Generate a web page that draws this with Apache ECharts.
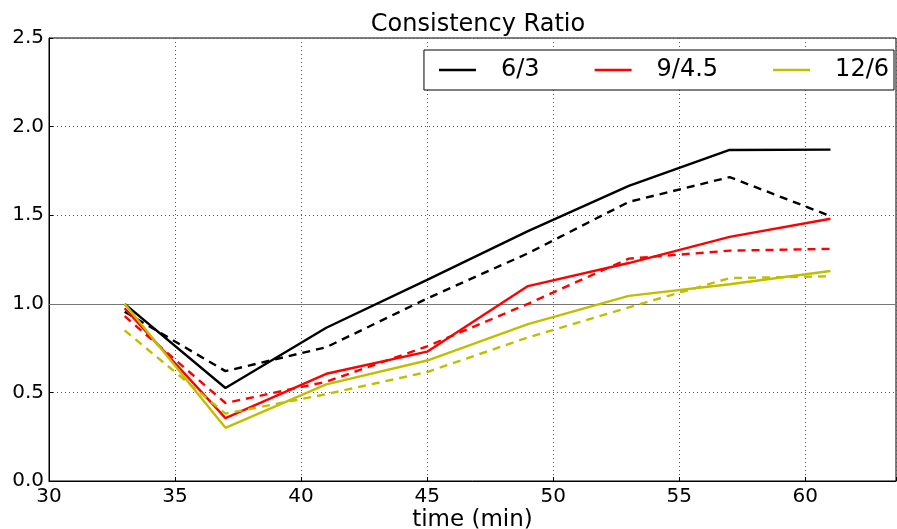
<!DOCTYPE html>
<html><head><meta charset="utf-8">
<script src="https://cdn.jsdelivr.net/npm/echarts@6/dist/echarts.min.js"></script>
<style>html,body{margin:0;padding:0;background:#fff;overflow:hidden}#c{width:897px;height:529px}</style>
</head><body><div id="c"></div>
<script>
const times = [33, 37, 41, 45, 49, 53, 57, 61];
const s63 = [1.00, 0.525, 0.865, 1.135, 1.41, 1.665, 1.868, 1.87];
const s63d = [0.955, 0.62, 0.755, 1.03, 1.285, 1.575, 1.715, 1.495];
const s945 = [0.975, 0.355, 0.605, 0.73, 1.10, 1.23, 1.378, 1.48];
const s945d = [0.93, 0.44, 0.56, 0.76, 1.00, 1.255, 1.30, 1.31];
const s126 = [1.00, 0.30, 0.545, 0.68, 0.885, 1.045, 1.11, 1.185];
const s126d = [0.85, 0.38, 0.49, 0.615, 0.81, 0.98, 1.145, 1.155];
const names = ['6/3', '9/4.5', '12/6'];
const colors = ['#000000', '#ff0000', '#bfbf00'];
const yTicks = [0.0, 0.5, 1.0, 1.5, 2.0, 2.5];

const pair = v => times.map((t, i) => [t, v[i]]);
const FONT = 'DejaVu Sans';
function line(name, data, color, dashed, extra) {
  return Object.assign({
    name: name, type: 'line', data: pair(data), showSymbol: false, symbol: 'none',
    lineStyle: { color: color, width: 2.4, type: dashed ? [8, 6] : 'solid' },
    itemStyle: { color: color }, z: 3, silent: true, animation: false
  }, extra || {});
}
const el = document.getElementById('c');
const chart = echarts.init(el, null, { renderer: 'canvas', width: 897, height: 529 });
chart.setOption({
  animation: false,
  title: { text: 'Consistency Ratio', left: 473, textAlign: 'center', top: 8,
    textStyle: { fontFamily: FONT, fontSize: 24, fontWeight: 'normal', color: '#000' } },
  legend: {
    data: names, right: 3, top: 50, orient: 'horizontal',
    icon: 'rect', itemWidth: 37, itemHeight: 2.5, itemGap: 55,
    padding: [8, 5, 8, 15],
    borderColor: '#000', borderWidth: 1, borderRadius: 0, backgroundColor: '#fff',
    textStyle: { fontFamily: FONT, fontSize: 24, color: '#000', padding: [0, 0, 0, 20] }
  },
  grid: { left: 49, right: 1, top: 38, bottom: 48, outerBoundsMode: 'none', containLabel: false,
    show: true, borderColor: '#000', borderWidth: 1, backgroundColor: 'transparent' },
  xAxis: {
    type: 'value', min: 30, max: 63.6, interval: 5,
    name: 'time (min)', nameLocation: 'middle', nameGap: 28, nameMoveOverlap: false,
    nameTextStyle: { fontFamily: FONT, fontSize: 23, color: '#000', verticalAlign: 'top' },
    axisLine: { show: true, onZero: false, lineStyle: { color: '#000', width: 1 } },
    axisTick: { show: true, inside: true, length: 4, lineStyle: { color: '#000' } },
    axisLabel: { fontFamily: FONT, fontSize: 20, color: '#000', margin: 6,
      formatter: v => (Math.abs(v % 5) < 1e-9 ? String(v) : '') },
    splitLine: { show: true, lineStyle: { color: '#555', width: 1, type: [1, 3] } }
  },
  yAxis: {
    type: 'value', min: 0, max: 2.5, interval: 0.5,
    axisLine: { show: true, lineStyle: { color: '#000', width: 1 } },
    axisTick: { show: true, inside: true, length: 4, lineStyle: { color: '#000' } },
    axisLabel: { fontFamily: FONT, fontSize: 20, color: '#000', margin: 5,
      formatter: v => yTicks.includes(v) ? v.toFixed(1) : '' },
    splitLine: { show: true, lineStyle: { color: '#555', width: 1, type: [1, 3] } }
  },
  series: [
    line('6/3', s63, colors[0], false, {
      markLine: { silent: true, symbol: 'none', label: { show: false }, animation: false,
        lineStyle: { color: '#777', width: 1, type: 'solid' }, data: [{ yAxis: 1.0 }], z: 2 }
    }),
    line('6/3 dashed', s63d, colors[0], true),
    line('9/4.5', s945, colors[1], false),
    line('9/4.5 dashed', s945d, colors[1], true),
    line('12/6', s126, colors[2], false),
    line('12/6 dashed', s126d, colors[2], true)
  ]
});
</script></body></html>
